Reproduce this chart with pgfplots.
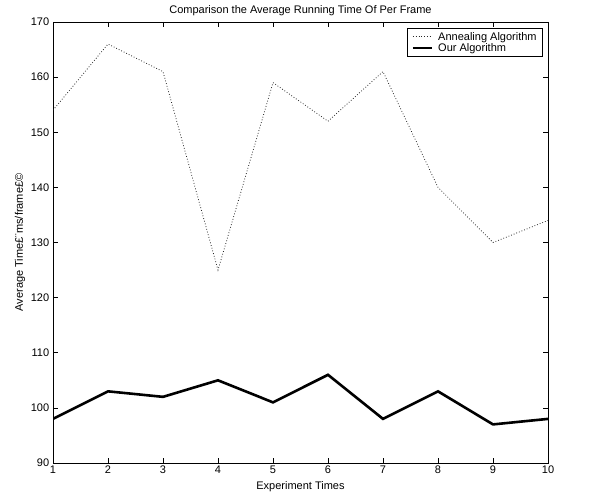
\documentclass[border=0pt]{standalone}
\usepackage{pgfplots}
\pgfplotsset{compat=1.18}
\usepackage{fontspec}
\setmainfont{Liberation Sans}
\begin{document}
\fontsize{11}{13}\selectfont
\begin{tikzpicture}
\begin{axis}[
  name=ax,
  scale only axis,
  width=495pt, height=441pt,
  xmin=1, xmax=10, ymin=90, ymax=170,
  xtick={1,...,10}, ytick={90,100,...,170},
  tick align=inside,
  major tick length=5pt,
  tick style={black, line width=0.5pt},
  axis line style={line width=0.8pt},
  /pgf/number format/assume math mode=true,
  ticklabel style={font=\fontsize{11}{13}\selectfont},
  xticklabel style={yshift=1pt},
  title={Comparison the Average Running Time Of Per Frame},
  title style={font=\fontsize{11}{13}\selectfont, yshift=-4pt},
  xlabel={Experiment Times},
  ylabel={Average Time£¨ms/frame£©},
  label style={font=\fontsize{11}{13}\selectfont},
  xlabel style={yshift=0pt},
  ylabel style={yshift=-2pt},
  legend style={at={(0.99,0.986)}, anchor=north east, draw=black, line width=0.8pt,
    font=\fontsize{11}{13}\selectfont, inner xsep=4pt, inner ysep=1.5pt, row sep=-2.5pt,
    cells={anchor=west},
    /tikz/every odd column/.append style={column sep=3pt}},
  legend image code/.code={\draw[#1] (0pt,0pt) -- (19pt,0pt);},
  legend cell align=left,
]
\addplot[black!85, line width=0.8pt, dash pattern=on 0.8pt off 2pt] coordinates {
(1,154) (2,166) (3,161) (4,125) (5,159) (6,152) (7,161) (8,140) (9,130) (10,134)};
\addlegendentry{Annealing Algorithm}
\addplot[black, line width=2.6pt] coordinates {
(1,98) (2,103) (3,102) (4,105) (5,101) (6,106) (7,98) (8,103) (9,97) (10,98)};
\addlegendentry{Our Algorithm}
\end{axis}
\path[use as bounding box] ([xshift=-53pt,yshift=-35pt]ax.south west) rectangle ([xshift=46pt,yshift=22pt]ax.north east);
\end{tikzpicture}
\end{document}
